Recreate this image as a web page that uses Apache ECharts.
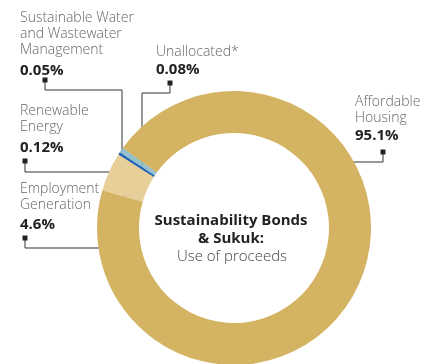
<!DOCTYPE html>
<html><head><meta charset="utf-8">
<script src="https://cdn.jsdelivr.net/npm/echarts@6/dist/echarts.min.js"></script>
<style>html,body{margin:0;padding:0;background:#fff}#c{width:432px;height:364px}</style>
</head><body><div id="c"></div>
<script>
const categories = ['Employment Generation', 'Sustainable Water and Wastewater Management', 'Unallocated*', 'Renewable Energy', 'Affordable Housing'];
const values = [4.6, 0.05, 0.08, 0.12, 95.1];
const valueLabels = ['4.6%', '0.05%', '0.08%', '0.12%', '95.1%'];
const nameLines = [['Employment', 'Generation'], ['Sustainable Water', 'and Wastewater', 'Management'], ['Unallocated*'], ['Renewable', 'Energy'], ['Affordable', 'Housing']];
const centerTitle = ['Sustainability Bonds', '& Sukuk:'];
const centerSub = 'Use of proceeds';

const colors = ['#e7cf9a', '#1f5db5', '#8dbccb', '#8dbccb', '#d4b463'];
const FONT = '"Open Sans", "Noto Sans", sans-serif';

// label layout: text anchor, value offset, marker point, leader path
const layout = [
  { x: 20, y: 182, vy: 3, mk: [25, 238], path: [[25, 238], [25, 248], [125, 248], [125, 195]] },
  { x: 20, y: 11, vy: 4, mk: [45, 80], path: [[45, 80], [45, 90], [122, 90], [122, 154]] },
  { x: 156, y: 45, vy: 1, mk: [170, 83], path: [[170, 83], [170, 93], [142, 93], [142, 172]] },
  { x: 20, y: 104, vy: 4, mk: [25, 161], path: [[25, 161], [25, 172], [146, 172]] },
  { x: 355, y: 95, vy: 1, mk: [383, 152], path: [[383, 152], [383, 162], [336, 162]] }
];

const graphic = [];
layout.forEach((L, i) => {
  const lines = nameLines[i];
  lines.forEach((t, j) => {
    graphic.push({ type: 'text', left: L.x, top: L.y + j * 16, silent: true,
      style: { text: t, fill: '#666', font: '300 14px ' + FONT } });
  });
  graphic.push({ type: 'text', left: L.x, top: L.y + lines.length * 16 + L.vy, silent: true,
    style: { text: valueLabels[i], fill: '#222', font: 'bold 15px ' + FONT } });
  graphic.push({ type: 'polyline', silent: true, shape: { points: L.path },
    style: { stroke: '#333', lineWidth: 1, fill: null } });
  graphic.push({ type: 'rect', silent: true, shape: { x: L.mk[0] - 2.5, y: L.mk[1] - 2.5, width: 5, height: 5 },
    style: { fill: '#222' } });
});
centerTitle.forEach((t, j) => {
  graphic.push({ type: 'text', x: 231, y: 213 + j * 18, silent: true,
    style: { text: t, fill: '#222', font: 'bold 15px ' + FONT, textAlign: 'center' } });
});
graphic.push({ type: 'text', x: 232, y: 249, silent: true,
  style: { text: centerSub, fill: '#444', font: '300 15px ' + FONT, textAlign: 'center' } });

const chart = echarts.init(document.getElementById('c'));
chart.setOption({
  animation: false,
  series: [{
    type: 'pie',
    center: [234, 228],
    radius: [95, 137],
    startAngle: 164,
    clockwise: true,
    minAngle: 1.1,
    silent: true,
    label: { show: false },
    labelLine: { show: false },
    itemStyle: { borderWidth: 0 },
    data: categories.map((c, i) => ({ name: c, value: values[i], itemStyle: { color: colors[i] } }))
  }],
  graphic: graphic
});
</script></body></html>
